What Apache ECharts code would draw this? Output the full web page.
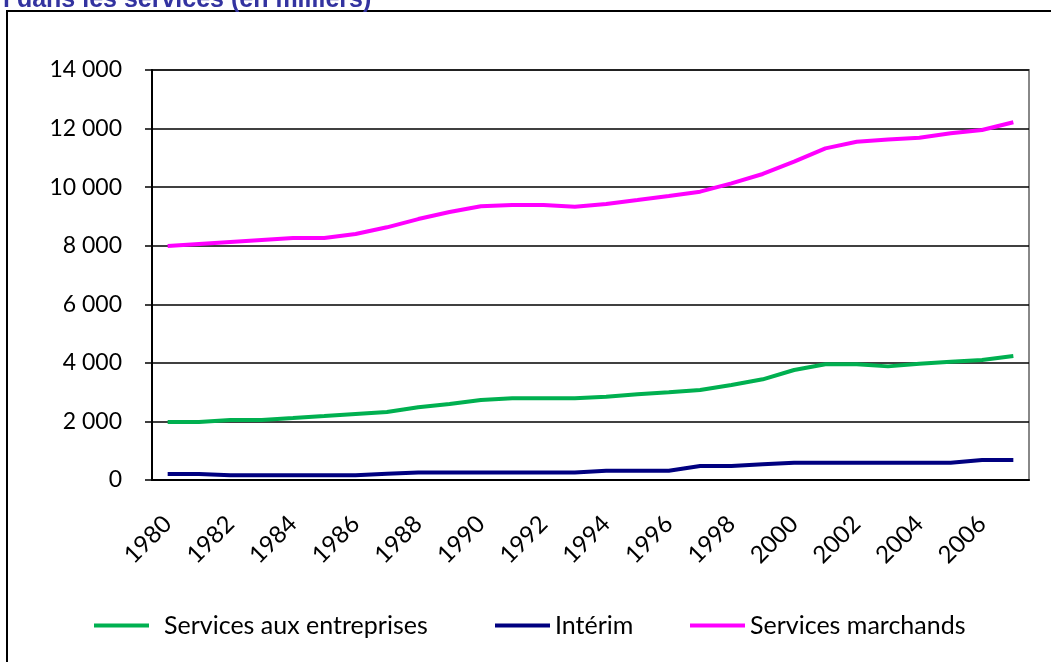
<!DOCTYPE html>
<html>
<head>
<meta charset="utf-8">
<script src="https://cdn.jsdelivr.net/npm/echarts@6/dist/echarts.min.js"></script>
<style>
  html, body { margin: 0; padding: 0; background: #fff; }
  #chart_1 { width: 1051px; height: 662px; }
</style>
</head>
<body>
<div id="chart_1"></div>
<script>
// categories and values
const years = ['1980','1981','1982','1983','1984','1985','1986','1987','1988','1989','1990','1991','1992','1993',
  '1994','1995','1996','1997','1998','1999','2000','2001','2002','2003','2004','2005','2006','2007'];
const entreprises = [1980,1980,2050,2050,2117,2185,2254,2322,2482,2595,2732,2790,2790,2790,
  2845,2925,2994,3073,3244,3438,3756,3950,3950,3880,3970,4040,4097,4234];
const interim = [205,205,160,160,160,160,160,210,260,260,260,260,260,260,
  318,318,318,478,478,535,592,592,592,592,592,592,683,683];
const marchands = [7990,8060,8127,8195,8260,8263,8400,8628,8910,9150,9350,9390,9390,9330,
  9425,9560,9700,9845,10130,10450,10870,11325,11550,11630,11690,11840,11950,12214];
const yTicks = [0, 2000, 4000, 6000, 8000, 10000, 12000, 14000];
const seriesNames = ['Services aux entreprises', 'Intérim', 'Services marchands'];

const font = 'Lato';
const myChart_1 = echarts.init(document.getElementById('chart_1'));

const line = (name, data, color) => ({
  name: name,
  type: 'line',
  data: data,
  symbol: 'none',
  lineStyle: { color: color, width: 4 },
  itemStyle: { color: color }
});

// one legend box per entry, the gaps in the original are uneven
const legendAt = (name, left, pad) => ({
  bottom: 19,
  left: left,
  icon: 'rect',
  itemWidth: 55,
  itemHeight: 4,
  textStyle: { fontFamily: font, fontSize: 25, color: '#000', padding: [0, 0, 0, pad] },
  data: [name]
});

myChart_1.setOption({
  animation: false,
  title: {
    text: 'l dans les services (en milliers)',
    left: -2,
    top: -17,
    textStyle: { color: '#3333a0', fontFamily: 'Liberation Sans', fontWeight: 'bold', fontSize: 25 }
  },
  graphic: [{
    type: 'rect',
    shape: { x: 7, y: 11, width: 1100, height: 700 },
    style: { fill: null, stroke: '#000', lineWidth: 2 },
    z: -1
  }],
  grid: {
    left: 152, right: 22, top: 70, bottom: 182,
    show: true, borderColor: '#888', borderWidth: 2
  },
  legend: [
    legendAt(seriesNames[0], 89, 10),
    legendAt(seriesNames[1], 490, 0),
    legendAt(seriesNames[2], 685, 0)
  ],
  xAxis: {
    type: 'category',
    data: years,
    axisLine: { lineStyle: { color: '#000', width: 2 } },
    axisTick: { length: 8, lineStyle: { color: '#000', width: 1.5 } },
    axisLabel: { interval: 1, rotate: 45, margin: 40, fontFamily: font, fontSize: 24, color: '#000' }
  },
  yAxis: {
    type: 'value',
    min: yTicks[0],
    max: yTicks[yTicks.length - 1],
    interval: 2000,
    axisLine: { show: true, lineStyle: { color: '#000', width: 2 } },
    axisTick: { show: true, length: 7, lineStyle: { color: '#000', width: 1.5 } },
    splitLine: { lineStyle: { color: '#000', width: 1.5 } },
    axisLabel: {
      margin: 30, fontFamily: font, fontSize: 23, color: '#000',
      formatter: v => v >= 1000 ? Math.floor(v / 1000) + ' ' + String(v % 1000).padStart(3, '0') : String(v)
    }
  },
  series: [
    line(seriesNames[0], entreprises, '#00b050'),
    line(seriesNames[1], interim, '#000080'),
    line(seriesNames[2], marchands, '#ff00ff')
  ]
});
</script>
</body>
</html>
